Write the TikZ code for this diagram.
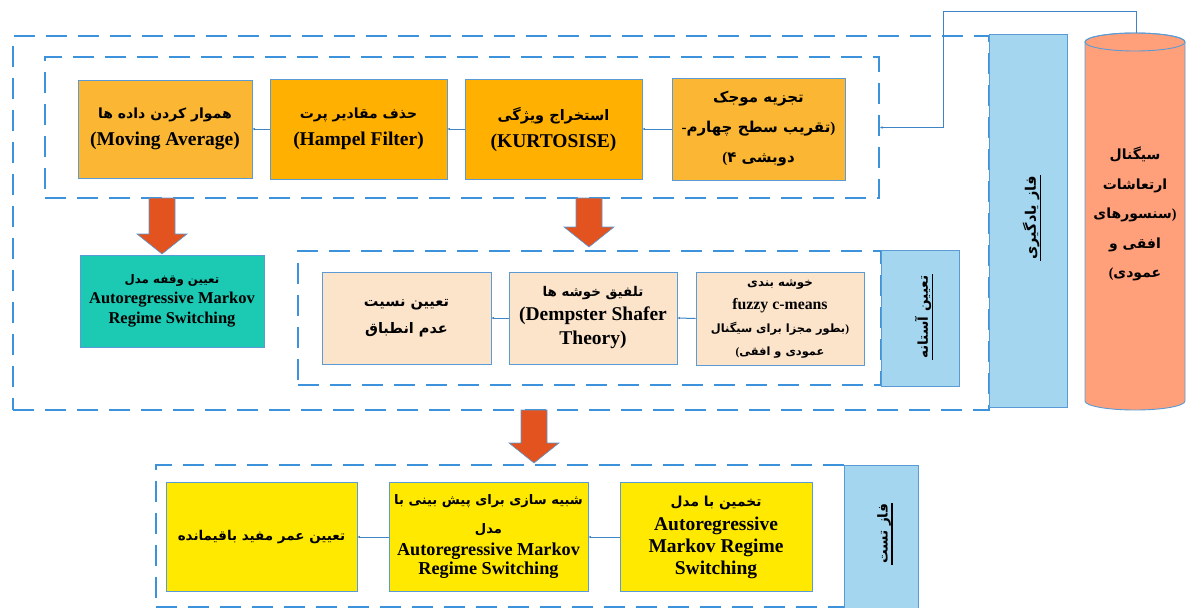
\documentclass[tikz,border=0pt]{standalone}
\usepackage{fontspec}
\setmainfont{Liberation Serif}
\newfontfamily\fafont[Script=Arabic]{DejaVu Sans}
\newfontfamily\lat{Liberation Serif}
\TeXXeTstate=1
\usetikzlibrary{arrows.meta}
\definecolor{frameblue}{HTML}{3C93DC}
\definecolor{boxline}{HTML}{5B9BD5}
\definecolor{linkblue}{HTML}{3F84C4}
\definecolor{orA}{HTML}{FBB734}
\definecolor{orB}{HTML}{FFB000}
\definecolor{tealbox}{HTML}{1CC9B3}
\definecolor{peach}{HTML}{FCE4CB}
\definecolor{phase}{HTML}{A4D7EF}
\definecolor{salmon}{HTML}{FFA07A}
\definecolor{yel}{HTML}{FFE900}
\definecolor{arrowred}{HTML}{E2531F}
\newcommand\FA[1]{{\fafont\bfseries\beginR#1\endR}}
\newcommand\fs[2]{\fontsize{#1}{#2}\selectfont}
\newcommand\bigarrow[3]{% x, ytop, ytip
  \path[bigarr] (#1-13,#2) -- (#1+13,#2) -- (#1+13,#3-20) -- (#1+25,#3-20) -- (#1,#3) -- (#1-25,#3-20) -- (#1-13,#3-20) -- cycle;}
\tikzset{
  frame/.style={draw=frameblue, line width=2pt, dash pattern=on 21pt off 11pt, inner sep=0pt},
  box/.style={draw=boxline, line width=0.9pt, inner sep=0pt, align=center, font=\bfseries},
  link/.style={draw=linkblue, line width=1pt, -{Latex[length=2.5pt,width=2.5pt]}},
  bigarr/.style={fill=arrowred, draw=boxline, line width=0.6pt},
  phasebox/.style={draw=boxline, line width=0.9pt, fill=phase, inner sep=0pt},
  vlabel/.style={rotate=90, inner sep=1pt},
  uline/.style={draw=black, line width=1.6pt},
  topfont/.style={font=\bfseries\fs{19.5}{27}},
}
\begin{document}
\begin{tikzpicture}[x=1pt,y=-1pt]
\useasboundingbox (0,0) rectangle (1187,608);
\fill[white] (0,0) rectangle (1187,608);

% dashed frames
\node[frame, minimum width=976pt, minimum height=374pt] (fout) at (501,223) {};
\node[frame, minimum width=834pt, minimum height=141pt] (ftop) at (462,127.5) {};
\node[frame, minimum width=583pt, minimum height=134pt] (fmid) at (589.5,318) {};
\node[frame, minimum width=689pt, minimum height=142pt] (fbot) at (500.5,536) {};

% phase label boxes
\node[phasebox, minimum width=78pt, minimum height=373pt] (plearn) at (1028,220.5) {};
\node[phasebox, minimum width=78pt, minimum height=136pt] (pthr) at (920,318) {};
\node[phasebox, minimum width=74pt, minimum height=143pt] (ptest) at (881,536.5) {};
\node[vlabel, font=\fs{14.5}{18}] (llearn) at (1031,218) {\FA{فاز یادگیری}};
\draw[uline] (llearn.south west) -- (llearn.south east);
\node[vlabel, font=\fs{13.6}{18}] (lthr) at (923,317) {\FA{تعیین آستانه}};
\draw[uline] (lthr.south west) -- (lthr.south east);
\node[vlabel, font=\fs{13.6}{18}] (ltest) at (884,534) {\FA{فاز تست}};
\draw[uline] (ltest.south west) -- (ltest.south east);

% cylinder
\path[fill=salmon, draw=boxline, line width=0.9pt] (1085,42) -- (1085,401)
  arc[start angle=180, end angle=0, x radius=50, y radius=9] -- (1185,42)
  arc[start angle=0, end angle=-180, x radius=50, y radius=9] -- cycle;
\draw[boxline, line width=0.9pt] (1135,42) ellipse[x radius=50, y radius=9];
\node[align=center, font=\bfseries\fs{14}{29.5}] (cyl) at (1135,214)
  {\FA{سیگنال}\\\FA{ارتعاشات}\\\FA{{\lat)}سنسورهای}\\\FA{افقی و}\\\FA{عمودی{\lat(}}};
\coordinate (cyltop) at (1136,33);
\coordinate (bend) at (943,11);

% top row
\node[box, fill=orA, topfont, minimum width=174pt, minimum height=98pt] (mavg) at (165,129)
  {\FA{\fs{14}{27}هموار کردن داده ها}\\(Moving Average)};
\node[box, fill=orB, topfont, minimum width=177pt, minimum height=100pt] (hamp) at (358.5,129)
  {\FA{\fs{14}{27}حذف مقادیر پرت}\\(Hampel Filter)};
\node[box, fill=orB, topfont, minimum width=177pt, minimum height=100pt] (kurt) at (553.5,129)
  {\FA{\fs{14.5}{27}استخراج ویژگی}\\(KURTOSISE)};
\node[box, fill=orA, font=\bfseries\fs{15}{30}, minimum width=173pt, minimum height=102pt] (wave) at (758.5,129)
  {\FA{تجزیه موجک}\\\FA{{\lat)}تقریب سطح چهارم{\lat -}}\\\FA{دوبشی ۴{\lat(}}};

% teal
\node[box, fill=tealbox, font=\bfseries\fs{16.5}{20}, minimum width=184pt, minimum height=92pt] (lag) at (172,301)
  {\FA{\fs{11.8}{20}تعیین وقفه مدل}\\Autoregressive Markov\\Regime Switching};

% middle row
\node[box, fill=peach, font=\bfseries\fs{14.5}{27}, minimum width=169pt, minimum height=92pt] (ratio) at (406.5,318)
  {\FA{تعیین نسیت}\\\FA{عدم انطباق}};
\node[box, fill=peach, font=\bfseries\fs{19.5}{24}, minimum width=168pt, minimum height=92pt] (demp) at (593,318)
  {\FA{\fs{13.4}{24}تلفیق خوشه ها}\\(Dempster Shafer\\Theory)};
\node[box, fill=peach, font=\bfseries\fs{15.8}{23}, minimum width=168pt, minimum height=93pt] (fcm) at (780,318.5)
  {\FA{\fs{11.8}{23}خوشه بندی}\\fuzzy c-means\\\FA{\fs{11.4}{23}{\lat)}بطور مجزا برای سیگنال}\\\FA{\fs{11.4}{23}عمودی و افقی{\lat(}}};

% bottom row
\node[box, fill=yel, font=\bfseries\fs{13.5}{27}, minimum width=191pt, minimum height=109pt] (rul) at (261.5,537)
  {\FA{تعیین عمر مفید باقیمانده}};
\node[box, fill=yel, font=\bfseries\fs{18.2}{19}, minimum width=199pt, minimum height=109pt] (sim) at (488.5,537)
  {\FA{\fs{13.1}{19}شبیه سازی برای پیش بینی با}\\[10pt]\FA{\fs{13.1}{19}مدل}\\[3pt]Autoregressive Markov\\Regime Switching};
\node[box, fill=yel, font=\bfseries\fs{19.5}{22}, minimum width=192pt, minimum height=109pt] (est) at (716,537)
  {\FA{\fs{13.8}{22}تخمین با مدل}\\[2pt]Autoregressive\\Markov Regime\\Switching};

% connectors
\draw[link] (hamp.west) -- (mavg.east);
\draw[link] (kurt.west) -- (hamp.east);
\draw[link] (wave.west) -- (kurt.east);
\draw[link] (cyltop) |- (bend) |- (ftop.east);
\draw[link] (demp.west) -- (ratio.east);
\draw[link] (fcm.west) -- (demp.east);
\draw[link] (sim.west) -- (rul.east);
\draw[link] (est.west) -- (sim.east);

% big arrows
\bigarrow{162}{198}{254}
\bigarrow{589}{198}{247}
\bigarrow{534}{410}{463}
\end{tikzpicture}
\end{document}
